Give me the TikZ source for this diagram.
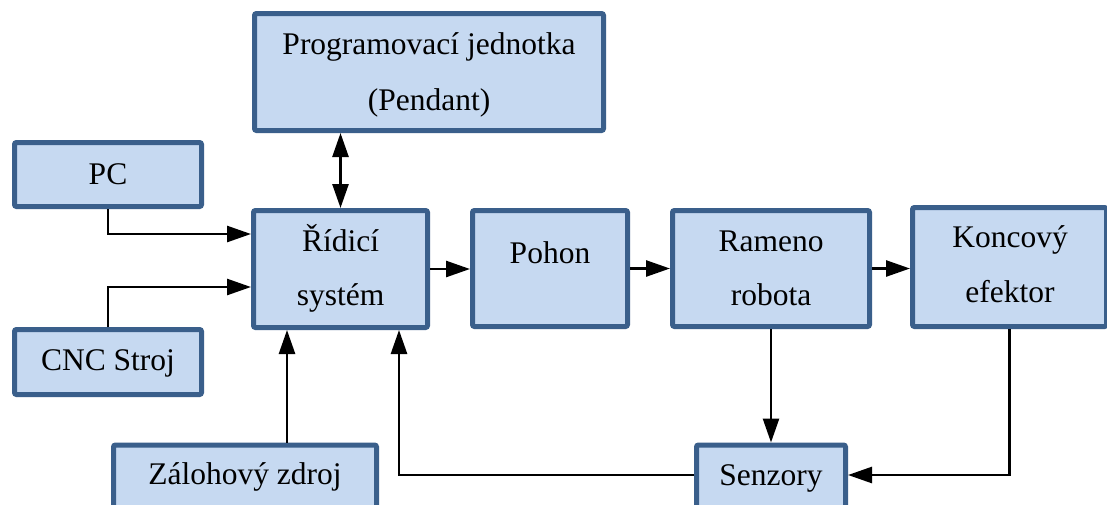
\documentclass[tikz,border=0pt]{standalone}
\usepackage{fontspec}
\setmainfont{Liberation Serif}
\newfontfamily\tms{Liberation Serif}
\usetikzlibrary{arrows.meta}
\definecolor{bdr}{HTML}{3A5F8B}
\definecolor{boxfill}{HTML}{C6D9F1}
\tikzset{
  blk/.style={draw=bdr, fill=boxfill, line width=5pt, rounded corners=2pt,
    inner sep=0pt, minimum width=#1},
  txt/.style={anchor=base, inner sep=0pt, font=\tms\fontsize{31.5}{38}\selectfont},
  conn/.style={line width=2.6pt, draw=black, -{Triangle[length=24pt,width=16pt]}},
  conn2/.style={line width=2.6pt, draw=black, {Triangle[length=24pt,width=16pt]}-{Triangle[length=24pt,width=16pt]}}
}
\begin{document}
\begin{tikzpicture}[x=1pt,y=-1pt]
\clip (0,0) rectangle (1107,504);
\fill[white] (0,0) rectangle (1107,504);
% boxes (path size = outer - 5)
\node[blk=349pt, minimum height=117pt] (pend) at (429,72) {};
\node[blk=187pt, minimum height=64pt] (pc) at (108,174.5) {};
\node[blk=174pt, minimum height=117pt] (rs) at (340.5,269) {};
\node[blk=155pt, minimum height=116pt] (poh) at (550,268.5) {};
\node[blk=197pt, minimum height=116pt] (ram) at (771,268.5) {};
\node[blk=194pt, minimum height=119pt] (kon) at (1009.5,267) {};
\node[blk=187pt, minimum height=65pt] (cnc) at (108,362) {};
\node[blk=263pt, minimum height=130pt] (zal) at (245,510) {};
\node[blk=149pt, minimum height=130pt] (sen) at (771,510) {};
% texts
\node[txt] (pendA) at (429,54) {Programovací jednotka};
\node[txt] (pendB) at (429,110) {(Pendant)};
\node[txt] (pcT) at (108,184) {PC};
\node[txt] (rsA) at (340.5,251) {Řídicí};
\node[txt] (rsB) at (340.5,305) {systém};
\node[txt] (pohT) at (550,263) {Pohon};
\node[txt] (ramA) at (771,251) {Rameno};
\node[txt] (ramB) at (771,305.5) {robota};
\node[txt] (konA) at (1010,247) {Koncový};
\node[txt] (konB) at (1010,302) {efektor};
\node[txt] (cncT) at (108,370) {CNC Stroj};
\node[txt] (zalT) at (245,484) {Zálohový zdroj};
\node[txt] (senT) at (771,485) {Senzory};
% connectors
\draw[conn2] (rs.north |- pend.south) -- (rs.north);
\draw[conn] (pc.south) |- ([yshift=35pt]rs.west);
\draw[conn] (cnc.north) |- ([yshift=-18pt]rs.west);
\draw[conn] ([xshift=-53.5pt]rs.south |- zal.north) -- ([xshift=-53.5pt]rs.south);
\draw[conn] (rs.east) -- (rs.east -| poh.west);
\draw[conn] (poh.east) -- (poh.east -| ram.west);
\draw[conn] (ram.east) -- (ram.east -| kon.west);
\draw[conn] (ram.south) -- (sen.north);
\draw[conn] (kon.south) |- ([yshift=35pt]sen.east);
\draw[conn] ([yshift=35pt]sen.west) -| ([xshift=58.5pt]rs.south);
\end{tikzpicture}
\end{document}
